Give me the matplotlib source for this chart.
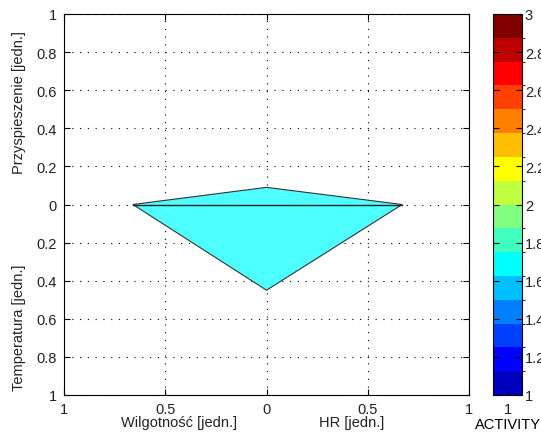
import matplotlib
matplotlib.use("Agg")
import matplotlib.pyplot as plt
import matplotlib.transforms as mtransforms
from matplotlib.colors import ListedColormap, BoundaryNorm
from matplotlib.colorbar import ColorbarBase
import numpy as np

plt.rcParams["font.family"] = ["Liberation Sans", "DejaVu Sans"]
plt.rcParams["font.size"] = 10.5
plt.rcParams["text.color"] = "#222222"
plt.rcParams["xtick.labelcolor"] = "#222222"
plt.rcParams["ytick.labelcolor"] = "#222222"

# radar-like values on four half-axes
axis_names = ["HR [jedn.]", "Przyspieszenie [jedn.]", "Wilgotność [jedn.]", "Temperatura [jedn.]"]
axis_values = [0.67, 0.09, 0.66, 0.45]
activity = 1.7

y_ticks = [-1, -0.8, -0.6, -0.4, -0.2, 0, 0.2, 0.4, 0.6, 0.8, 1]
y_tick_labels = ["1", "0.8", "0.6", "0.4", "0.2", "0", "0.2", "0.4", "0.6", "0.8", "1"]
x_ticks = [-1, -0.5, 0, 0.5, 1]
x_tick_labels = ["1", "0.5", "0", "0.5", "1"]
cbar_ticks = [1, 1.2, 1.4, 1.6, 1.8, 2, 2.2, 2.4, 2.6, 2.8, 3]
cbar_tick_labels = ["1", "1.2", "1.4", "1.6", "1.8", "2", "2.2", "2.4", "2.6", "2.8", "3"]

# MATLAB jet(16)
jet16 = [
    (0, 0, 0.75), (0, 0, 1), (0, 0.25, 1), (0, 0.5, 1), (0, 0.75, 1), (0, 1, 1),
    (0.25, 1, 0.75), (0.5, 1, 0.5), (0.75, 1, 0.25), (1, 1, 0), (1, 0.75, 0),
    (1, 0.5, 0), (1, 0.25, 0), (1, 0, 0), (0.75, 0, 0), (0.5, 0, 0),
]
cmap = ListedColormap(jet16)
bounds = np.linspace(1, 3, 17)
norm = BoundaryNorm(bounds, cmap.N)

W, H = 541, 439
fig = plt.figure(figsize=(W / 100, H / 100), dpi=100)
ax = fig.add_axes([64 / W, 1 - 396 / H, 405 / W, 381 / H])
cax = fig.add_axes([493 / W, 1 - 396 / H, 29 / W, 381 / H])

hr, acc, hum, temp = axis_values
xs = [hr, 0, -hum, 0]
ys = [0, acc, 0, -temp]
face = cmap(norm(activity))
face = tuple(0.3 + 0.7 * c for c in face[:3])
ax.fill(xs, ys, facecolor=face, edgecolor="#333333", linewidth=0.8, zorder=2)
ax.plot([-hum, hr], [0, 0], color="#222222", linewidth=1.0, zorder=3)

ax.set_xlim(-1, 1)
ax.set_ylim(-1, 1)
ax.set_xticks(x_ticks)
ax.set_xticklabels(x_tick_labels)
ax.set_yticks(y_ticks)
ax.set_yticklabels(y_tick_labels)
ax.grid(True, linestyle=(0, (1, 6)), color="black", linewidth=0.8)
ax.tick_params(direction="in", top=True, right=True, length=4, pad=5)
for s in ax.spines.values():
    s.set_linewidth(0.8)

trans_y = mtransforms.blended_transform_factory(ax.transAxes, ax.transData)
ax.text(-0.11, 0.54, axis_names[1], transform=trans_y, rotation=90, ha="center", va="center")
ax.text(-0.11, -0.64, axis_names[3], transform=trans_y, rotation=90, ha="center", va="center")
trans_x = mtransforms.blended_transform_factory(ax.transData, ax.transAxes)
ax.text(-0.43, -0.07, axis_names[2], transform=trans_x, ha="center", va="center")
ax.text(0.42, -0.07, axis_names[0], transform=trans_x, ha="center", va="center")

cb = ColorbarBase(cax, cmap=cmap, norm=norm, boundaries=bounds, orientation="vertical")
cb.set_ticks(cbar_ticks)
cb.set_ticklabels(cbar_tick_labels)
cax.tick_params(axis="y", direction="in", left=True, right=True, length=4, pad=2)
cax.set_xticks([0.5])
cax.set_xticklabels(["1"])
cax.tick_params(axis="x", direction="in", length=3, pad=5)
cax.set_xlabel("ACTIVITY", labelpad=1)
cb.outline.set_linewidth(0.8)

fig.savefig("out.png", dpi=100)
